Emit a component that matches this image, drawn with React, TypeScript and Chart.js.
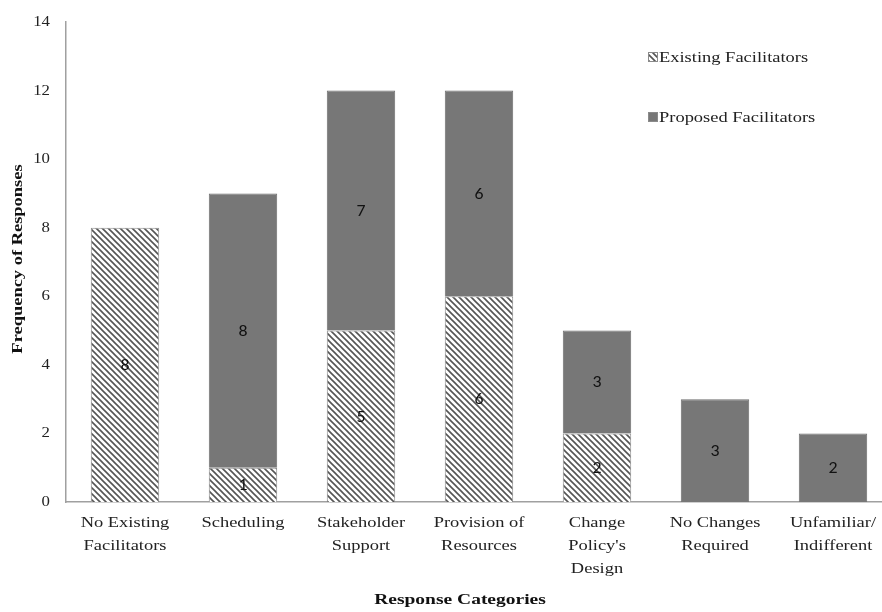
import React, { useEffect, useRef } from "react";
import { Chart, registerables } from "chart.js";

Chart.register(...registerables);

const categories: string[][] = [
  ["No Existing", "Facilitators"],
  ["Scheduling"],
  ["Stakeholder", "Support"],
  ["Provision of", "Resources"],
  ["Change", "Policy's", "Design"],
  ["No Changes", "Required"],
  ["Unfamiliar/", "Indifferent"],
];
const existingFacilitators = [8, 1, 5, 6, 2, 0, 0];
const proposedFacilitators = [0, 8, 7, 6, 3, 3, 2];
const seriesNames = ["Existing Facilitators", "Proposed Facilitators"];
const yAxisTitle = "Frequency of Responses";
const xAxisTitle = "Response Categories";

const SERIF = "'Liberation Serif', 'Times New Roman', serif";
const SANS = "Carlito, Lato, 'Open Sans', sans-serif";
const SOLID = "#777777";
const BORDER = "#8a8a8a";
// the serif text in this figure is set noticeably wide
const WIDE = 1.23;

function makeHatch(): CanvasPattern | string {
  const size = 6;
  const c = document.createElement("canvas");
  c.width = size;
  c.height = size;
  const g = c.getContext("2d");
  if (!g) return "#bbb";
  g.fillStyle = "#ffffff";
  g.fillRect(0, 0, size, size);
  g.strokeStyle = "#555555";
  g.lineWidth = 1.6;
  g.beginPath();
  g.moveTo(-1, -1);
  g.lineTo(size + 1, size + 1);
  g.moveTo(-1, size - 1);
  g.lineTo(1, size + 1);
  g.moveTo(size - 1, -1);
  g.lineTo(size + 1, 1);
  g.stroke();
  return g.createPattern(c, "repeat") || "#bbb";
}

function wideText(
  ctx: CanvasRenderingContext2D,
  text: string,
  x: number,
  y: number,
  align: CanvasTextAlign,
  stretch: number,
  rotate = 0
) {
  ctx.save();
  ctx.translate(x, y);
  if (rotate) ctx.rotate(rotate);
  ctx.scale(stretch, 1);
  ctx.textAlign = align;
  ctx.textBaseline = "middle";
  ctx.fillText(text, 0, 0);
  ctx.restore();
}

export default function App() {
  const ref = useRef<HTMLCanvasElement | null>(null);

  useEffect(() => {
    if (!ref.current) return;
    const hatch = makeHatch();

    const valueLabels = {
      id: "valueLabels",
      afterDatasetsDraw(chart: any) {
        const ctx = chart.ctx;
        ctx.save();
        ctx.font = `17px ${SANS}`;
        ctx.fillStyle = "#111";
        chart.data.datasets.forEach((ds: any, di: number) => {
          const meta = chart.getDatasetMeta(di);
          meta.data.forEach((bar: any, i: number) => {
            const v = ds.data[i];
            if (!v) return;
            wideText(ctx, String(v), bar.x, (bar.y + bar.base) / 2 + 1, "center", 1.05);
          });
        });
        ctx.restore();
      },
    };

    const axisText = {
      id: "axisText",
      afterDraw(chart: any) {
        const ctx = chart.ctx;
        const xs = chart.scales.x;
        const ys = chart.scales.y;
        ctx.save();
        ctx.fillStyle = "#222";
        ctx.font = `15px ${SERIF}`;
        // y tick labels
        ys.ticks.forEach((t: any) => {
          wideText(ctx, String(t.value), 50, ys.getPixelForValue(t.value), "right", 1.12);
        });
        // x category labels
        categories.forEach((lines, i) => {
          const cx = xs.getPixelForValue(i);
          lines.forEach((ln, k) => {
            wideText(ctx, ln, cx, xs.top + 21 + k * 23, "center", WIDE);
          });
        });
        // axis titles
        ctx.fillStyle = "#111";
        ctx.font = `bold 15px ${SERIF}`;
        wideText(ctx, xAxisTitle, 460, 600, "center", 1.3);
        wideText(ctx, yAxisTitle, 18, 259, "center", WIDE, -Math.PI / 2);
        ctx.restore();
      },
    };

    const sideLegend = {
      id: "sideLegend",
      afterDraw(chart: any) {
        const ctx = chart.ctx;
        ctx.save();
        const x = 648;
        const rows = [57, 117];
        chart.data.datasets.forEach((ds: any, di: number) => {
          const cy = rows[di];
          ctx.fillStyle = ds.backgroundColor;
          ctx.fillRect(x, cy - 5, 10, 10);
          ctx.strokeStyle = BORDER;
          ctx.lineWidth = 1;
          ctx.strokeRect(x + 0.5, cy - 4.5, 9, 9);
          ctx.fillStyle = "#222";
          ctx.font = `15px ${SERIF}`;
          wideText(ctx, ds.label, x + 11, cy + 1, "left", WIDE);
        });
        ctx.restore();
      },
    };

    const chart = new Chart(ref.current, {
      type: "bar",
      data: {
        labels: categories.map((c) => c.join(" ")),
        datasets: [
          {
            label: seriesNames[0],
            data: existingFacilitators,
            backgroundColor: hatch as any,
            borderColor: BORDER,
            borderWidth: 1,
            categoryPercentage: 1,
            barPercentage: 0.58,
          },
          {
            label: seriesNames[1],
            data: proposedFacilitators,
            backgroundColor: SOLID,
            borderColor: "#6e6e6e",
            borderWidth: 1,
            categoryPercentage: 1,
            barPercentage: 0.58,
          },
        ],
      },
      options: {
        animation: false,
        responsive: false,
        maintainAspectRatio: false,
        layout: { padding: { top: 22, right: 4, left: 0, bottom: 0 } },
        plugins: {
          legend: { display: false },
          tooltip: { enabled: false },
        },
        scales: {
          x: {
            stacked: true,
            grid: { display: false, drawTicks: false },
            border: { display: true, color: "#a0a0a0", width: 1.5 },
            ticks: { display: false },
            afterFit(scale: any) {
              scale.height = 110;
            },
          },
          y: {
            stacked: true,
            min: 0,
            max: 14,
            grid: { display: false, drawTicks: false },
            border: { display: true, color: "#a0a0a0", width: 1.5 },
            ticks: { display: false, stepSize: 2 },
            afterFit(scale: any) {
              scale.width = 66;
            },
          },
        },
      },
      plugins: [valueLabels, axisText, sideLegend],
    });

    return () => chart.destroy();
  }, []);

  return (
    <div
      style={{
        position: "fixed",
        left: 0,
        top: 0,
        width: 882,
        height: 612,
        overflow: "hidden",
        background: "#fff",
      }}
    >
      <canvas ref={ref} width={896} height={612} style={{ display: "block" }} />
    </div>
  );
}
